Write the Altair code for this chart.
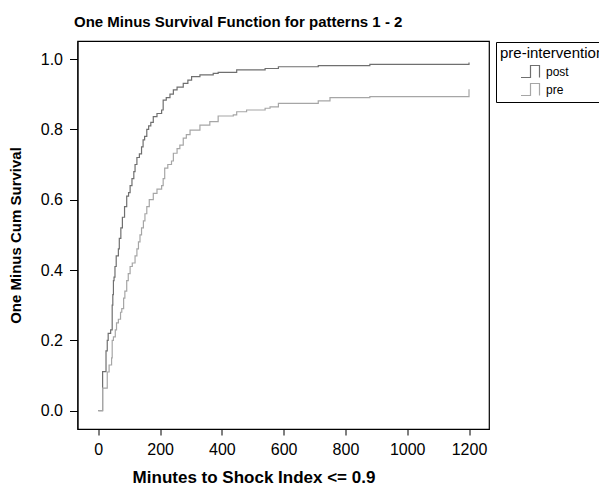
import altair as alt
import pandas as pd

# post group: step function (time, one minus survival)
post_t = [0, 14, 25, 29, 32, 40, 45, 47, 49, 51, 54, 58, 65, 68, 73, 78, 85, 92, 98, 103,
          109, 115, 119, 125, 133, 140, 145, 150, 157, 163, 170, 178, 190, 205, 210, 220,
          232, 243, 255, 275, 290, 302, 329, 372, 388, 448, 540, 583, 712, 879, 1200]
post_y = [0.0, 0.111, 0.17, 0.2, 0.22, 0.23, 0.30, 0.33, 0.37, 0.38, 0.41, 0.44, 0.46, 0.49,
          0.52, 0.55, 0.58, 0.61, 0.62, 0.64, 0.66, 0.68, 0.70, 0.72, 0.73, 0.75, 0.77, 0.78,
          0.80, 0.81, 0.82, 0.836, 0.845, 0.855, 0.883, 0.89, 0.90, 0.912, 0.92, 0.931, 0.94,
          0.95, 0.955, 0.959, 0.962, 0.969, 0.973, 0.978, 0.981, 0.985, 0.99]

# pre group
pre_t = [0, 14, 29, 35, 43, 45, 49, 55, 59, 65, 72, 76, 82, 86, 92, 97, 103, 110, 119, 125,
         130, 135, 140, 146, 151, 157, 165, 178, 190, 205, 210, 215, 225, 237, 243, 255, 264,
         275, 285, 297, 329, 361, 388, 437, 448, 480, 540, 556, 583, 712, 750, 879, 1200]
pre_y = [0.0, 0.064, 0.11, 0.13, 0.15, 0.2, 0.21, 0.23, 0.25, 0.26, 0.28, 0.29, 0.32, 0.34,
         0.37, 0.39, 0.41, 0.42, 0.44, 0.46, 0.48, 0.50, 0.52, 0.54, 0.56, 0.58, 0.60, 0.618,
         0.63, 0.64, 0.66, 0.69, 0.70, 0.71, 0.732, 0.745, 0.755, 0.775, 0.785, 0.798, 0.812,
         0.822, 0.838, 0.841, 0.85, 0.855, 0.86, 0.864, 0.874, 0.881, 0.89, 0.893, 0.914]

groups = ["post", "pre"]
colors = ["#6f6f6f", "#a6a6a6"]
x_ticks = [0, 200, 400, 600, 800, 1000, 1200]
y_ticks = [0.0, 0.2, 0.4, 0.6, 0.8, 1.0]

df = pd.concat([
    pd.DataFrame({"t": post_t, "y": post_y, "g": "post"}),
    pd.DataFrame({"t": pre_t, "y": pre_y, "g": "pre"}),
], ignore_index=True)

FONT = "Liberation Sans"
step_path = "M3,1.2 H4.9 V-1.2 H6.7 V1.2"

chart = alt.Chart(df).mark_line(interpolate="step-after", strokeWidth=1.2, clip=True).encode(
    x=alt.X("t:Q", scale=alt.Scale(domain=[-67.3, 1264.7], nice=False, zero=False),
            axis=alt.Axis(values=x_ticks, format="d", title="Minutes to Shock Index <= 0.9", grid=False,
                          tickSize=6, labelPadding=6, labelFontSize=16, labelColor="black",
                          titleFontSize=17, titleFontWeight="bold", titleColor="black",
                          titleX=176, titleY=53, titleBaseline="alphabetic",
                          domainColor="black", tickColor="black", labelFont=FONT, titleFont=FONT)),
    y=alt.Y("y:Q", scale=alt.Scale(domain=[-0.052, 1.0512], nice=False, zero=False),
            axis=alt.Axis(values=y_ticks, format=".1f", title="One Minus Cum Survival", grid=False,
                          tickSize=8, labelPadding=7, labelFontSize=16, labelColor="black",
                          titleFontSize=15, titleFontWeight="bold", titleColor="black",
                          titleX=-57, titleY=194, titleAlign="center", titleBaseline="alphabetic",
                          domainColor="black", tickColor="black", labelFont=FONT, titleFont=FONT)),
    color=alt.Color("g:N", scale=alt.Scale(domain=groups, range=colors),
                    legend=alt.Legend(title="pre-intervention", orient="none", legendX=418.5,
                                      legendY=1, padding=4, strokeColor="black", fillColor="white",
                                      titleFontSize=15, titleFontWeight="normal", titleColor="black",
                                      titleFont=FONT, labelFont=FONT, labelFontSize=12,
                                      labelColor="black", symbolType=step_path, symbolSize=100,
                                      symbolStrokeWidth=1.2, labelOffset=34, rowPadding=0,
                                      titlePadding=4.5)),
).properties(
    width=411.5, height=388,
    title=alt.Title("One Minus Survival Function for patterns 1 - 2", anchor="start", frame="group",
                    dx=-3.5, dy=18, offset=17.5, baseline="alphabetic", fontSize=15, fontWeight="bold",
                    font=FONT, color="black"),
    autosize=alt.AutoSizeParams(type="none"),
    padding={"left": 69.5, "top": 33, "right": 110, "bottom": 60},
).configure_view(stroke="black", strokeWidth=1.2)

chart.save("out.html", embed_options={"renderer": "svg", "actions": False})
